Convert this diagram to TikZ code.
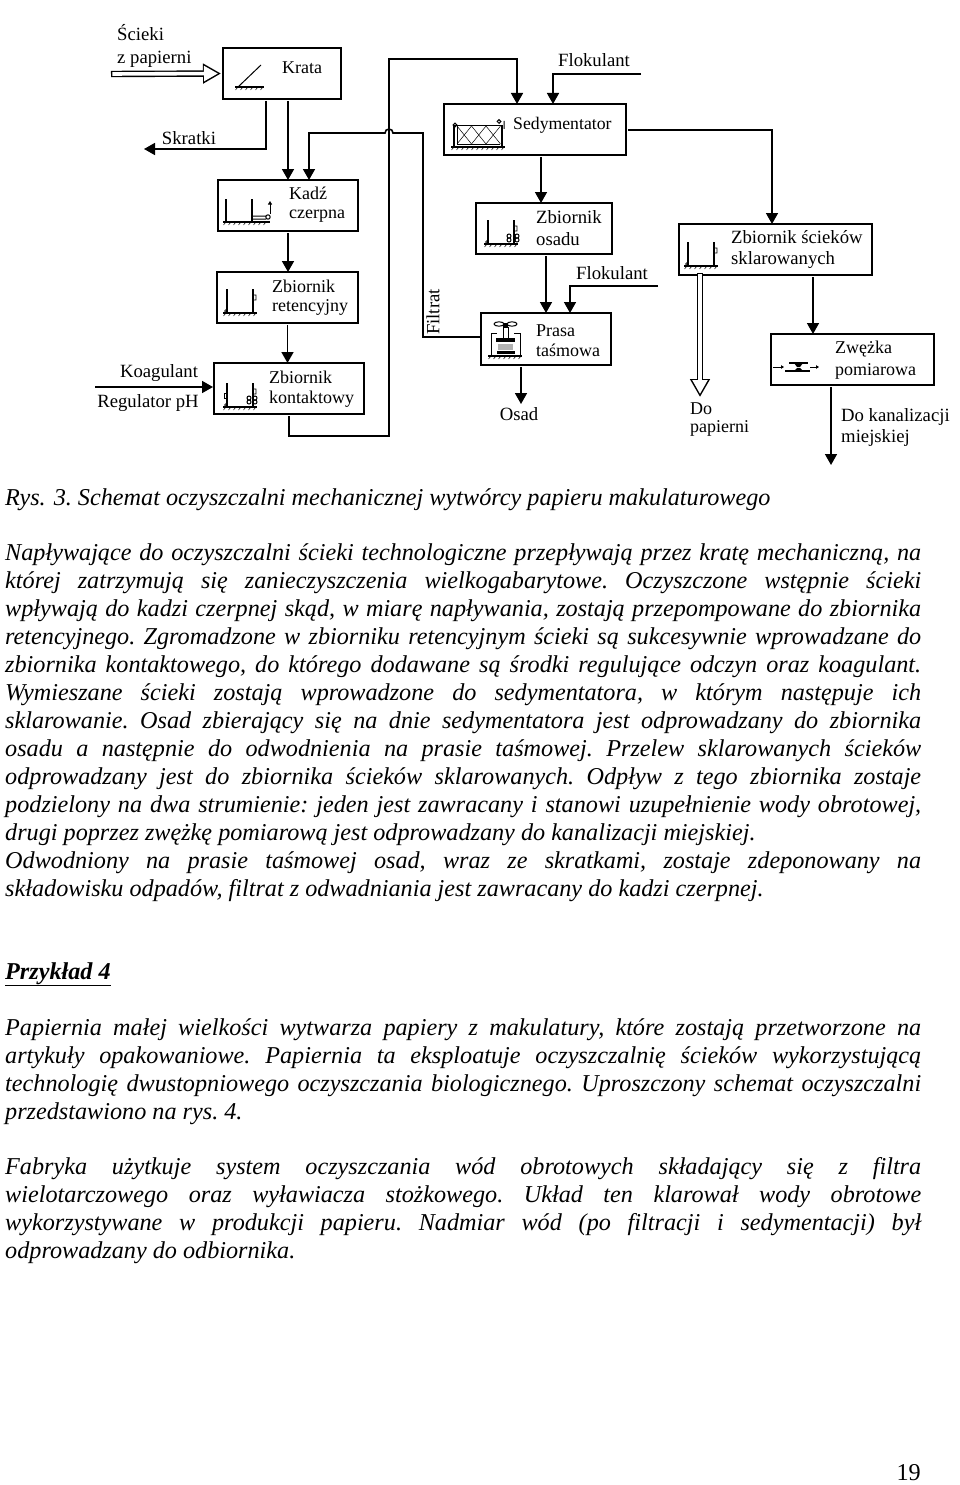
\documentclass[tikz,border=0pt]{standalone}
\usepackage{fontspec}
\setmainfont{Liberation Serif}
\usetikzlibrary{arrows.meta,positioning}

\newcommand{\justline}[1]{\makebox[916pt][s]{#1}}

\tikzset{
    box/.style={draw, line width=1.8pt, inner sep=0pt, outer sep=0pt},
    flow/.style={line width=1.6pt, -{Triangle[length=11pt,width=12pt]}, shorten <=2pt},
    hollow/.style={white, line width=3.6pt, shorten <=1.4pt, shorten >=3pt,
        -{Triangle[length=14pt,width=14.5pt]},
        preaction={draw=black, line width=6.4pt, shorten <=0pt, shorten >=0pt,
            -{Triangle[length=18pt,width=19pt]}}},
    label/.style={font=\fontsize{18.7}{18.7}\selectfont, align=left, inner sep=0pt},
    boxlabel/.style={font=\fontsize{18}{18.7}\selectfont, align=left, inner sep=0pt},
    bodyline/.style={anchor=base west, inner sep=0pt, font=\fontsize{24.2}{28}\selectfont\itshape\frenchspacing},
    icon/.style={line width=1pt},
    ground/.pic={
        \draw[line width=1.3pt] (0,0) -- (#1,0);
        \foreach \hx in {3,8,...,#1}
            \draw[line width=0.5pt] (\hx,0) -- ++(-2.5,3);
    },
    tank/.pic={
        \draw[line width=1.4pt] (0,-24) -- (0,0) (26,-24) -- (26,0);
        \draw[line width=0.7pt] (-1,-2) circle (1.3pt) (26,-18) -- ++(3,0) -- ++(0,5) -- ++(-3,0);
        \pic at (-4,0) {ground=34};
    },
}

\begin{document}
\begin{tikzpicture}[x=1pt, y=-1pt]
    \useasboundingbox (0,0) rectangle (960,1485);

    \node[box, minimum width=118pt, minimum height=51pt] (krata) at (282,73.5) {};
    \node[box, minimum width=140pt, minimum height=51pt] (kadz) at (288,205.5) {};
    \node[box, minimum width=141pt, minimum height=51pt] (reten) at (287.5,297.5) {};
    \node[box, minimum width=150pt, minimum height=51pt] (kontakt) at (289,388.5) {};
    \node[box, minimum width=182pt, minimum height=51pt] (sedym) at (535,129.5) {};
    \node[box, minimum width=136pt, minimum height=51pt] (osadu) at (544,228.5) {};
    \node[box, minimum width=130pt, minimum height=52pt] (prasa) at (546,339) {};
    \node[box, minimum width=193pt, minimum height=51pt] (klar) at (775.5,249.5) {};
    \node[box, minimum width=163pt, minimum height=51pt] (zwezka) at (852.5,359.5) {};

    \node[boxlabel] (kratatxt) at (302,68) {Krata};
    \node[boxlabel, anchor=west] (kadztxt) at (289,204.5) {Kadź\\czerpna};
    \node[boxlabel, anchor=west] (retentxt) at (272,298) {Zbiornik\\retencyjny};
    \node[boxlabel, anchor=west] (kontakttxt) at (269,389) {Zbiornik\\[1pt]kontaktowy};
    \node[boxlabel, anchor=west, font=\fontsize{17.7}{18}\selectfont] (sedymtxt) at (513,125) {Sedymentator};
    \node[label, anchor=west] (osadutxt) at (536,228) {Zbiornik\\[3pt]osadu};
    \node[boxlabel, anchor=west] (prasatxt) at (536,340.5) {Prasa\\[1pt]taśmowa};
    \node[label, anchor=west] (klartxt) at (731,249.5) {Zbiornik ścieków\\[3pt]sklarowanych};
    \node[boxlabel, anchor=west] (zwezkatxt) at (835,360.5) {Zwężka\\[3pt]pomiarowa};

    \node[label, anchor=west] (scieki) at (117,46) {Ścieki\\[4pt]z papierni};
    \node[label] (skratki) at (189,138) {Skratki};
    \node[label] (flok) at (594,60) {Flokulant};
    \node[label] (flokb) at (612,273) {Flokulant};
    \node[label] (koag) at (159,373) {Koagulant};
    \node[label] (regul) at (148,403) {Regulator pH};
    \node[label, rotate=90] (filtrat) at (433,312) {Filtrat};
    \node[label] (osad) at (519,414) {Osad};
    \node[boxlabel, anchor=west] (dopap) at (690,419.5) {Do\\papierni};
    \node[label, anchor=west] (dokan) at (841,427.5) {Do kanalizacji\\[3pt]miejskiej};

    \coordinate (wlot) at (111,74);
    \coordinate (skrend) at (144,149);
    \coordinate (flokstart) at (641,74);
    \coordinate (flokbstart) at (658,286);
    \coordinate (koagstart) at (95,387);
    \coordinate (osadend) at (521,404);
    \coordinate (papend) at (700,397);
    \coordinate (miasto) at (831,465);
    \coordinate (retdol) at (389,436);
    \coordinate (retgora) at (389,59);
    \coordinate (filtgora) at (423,133);
    \coordinate (garb) at (393,133);
    \coordinate (sedprawo) at (772,130);

    \draw[hollow] (wlot) -- ([xshift=-2pt]krata.west);
    \draw[flow] ([xshift=-16pt]krata.south) |- (skrend);
    \draw[flow] (krata.south -| kadz.north) -- (kadz.north);
    \draw[flow] (kadz.south) -- (kadz.south |- reten.north);
    \draw[flow] (reten.south) -- (reten.south |- kontakt.north);
    \draw[flow, shorten <=0pt, shorten >=1pt] (koagstart) -- (koagstart -| kontakt.west);
    \draw[flow] (kontakt.south) |- (retdol) -- (retgora) -| ([xshift=-18pt]sedym.north);
    \draw[flow, shorten <=0pt] (flokstart) -| ([xshift=18pt]sedym.north);
    \draw[flow] ([xshift=6pt]sedym.south) -- ([xshift=6pt]sedym.south |- osadu.north);
    \draw[flow] (sedym.east |- sedprawo) -- (sedprawo) -- (sedprawo |- klar.north);
    \draw[flow] ([xshift=2pt]osadu.south) -- ([xshift=2pt]osadu.south |- prasa.north);
    \draw[flow, shorten <=0pt] (flokbstart) -| ([xshift=24pt]prasa.north);
    \draw[flow] ([xshift=-25pt]prasa.south) -- (osadend);
    \draw[flow, shorten <=0pt] ([yshift=2pt]prasa.west) -| (filtgora) -- (garb)
        arc[start angle=0, end angle=180, radius=4pt] -| ([xshift=21pt]kadz.north);
    \draw[hollow] ([yshift=2pt]papend |- klar.south) -- (papend);
    \draw[flow] ([xshift=37.5pt]klar.south) -- ([xshift=37.5pt]klar.south |- zwezka.north);
    \draw[flow] ([xshift=-21.5pt]zwezka.south) -- (miasto);

    \pic at (235,87) {ground=29};
    \draw[icon] (238,87) -- (261,65);

    \pic at (223,222) {ground=47};
    \draw[line width=1.4pt] (226,199) -- (226,222) (252,199) -- (252,222);
    \draw[icon] (252,216) -- (266,216) (252,219) -- (266,219) (268,217) circle (2.2pt);
    \draw[icon, -{Triangle[length=3.5pt,width=4pt]}] (270,214) -- (270,201);

    \pic at (227,313) {tank};
    \pic at (227,407) {tank};
    \draw[line width=1pt] (249,402) circle (2pt) (249,398) circle (2pt) (255,402) circle (2pt) (255,398) circle (2pt);
    \draw[icon] (227,393) -- ++(-3,0) -- ++(0,5) -- ++(3,0);

    \pic at (488,244) {tank};
    \draw[line width=1pt] (509,240) circle (2pt) (509,236) circle (2pt) (517,240) circle (2pt) (517,236) circle (2pt);
    \pic at (688,266) {tank};

    \pic at (451,147) {ground=54};
    \draw[line width=1.4pt] (454,125) -- (454,147) (502,125) -- (502,147);
    \draw[icon] (454,126) -- (502,126);
    \draw[line width=0.5pt] (457,126) -- (457,144) -- (500,144);
    \foreach \sx in {457,471.5,486}
        \draw[line width=0.5pt] (\sx,126) -- ++(14.5,18) (\sx,144) -- ++(14.5,-18);
    \draw[icon] (455,125) circle (1.8pt) (499,121.5) circle (1.8pt) (504,121) -- (504,129);

    \pic at (488,356) {ground=34};
    \draw[line width=1pt] (491,356) -- (491,333) -- (497,333) (520,356) -- (520,333) -- (514,333);
    \draw[line width=1pt] (499,324) ellipse (5pt and 2.2pt) (512,324) ellipse (5pt and 2.2pt);
    \fill (503,323) rectangle (508,327);
    \draw[line width=1pt] (503,327) rectangle (508,338);
    \fill (496,338) rectangle (515,342);
    \fill[gray!60] (498,344) rectangle (513,350);
    \fill (497,351) rectangle (515,354);

    \draw[icon, -{Triangle[length=3pt,width=3.5pt]}] (773,367) -- (784,367);
    \draw[icon, -{Triangle[length=3pt,width=3.5pt]}] (810,367) -- (819,367);
    \draw[line width=1.3pt] (785,371) -- (810,371) (789,363) -- (808,363);
    \fill (794,363) -- (803,363) -- (800,367) -- (797,367) -- cycle;
    \fill (794,371) -- (803,371) -- (800,368) -- (797,368) -- cycle;

    \node[bodyline] (rys) at (5,505) {Rys.\hspace{2pt} 3. Schemat oczyszczalni mechanicznej wytwórcy papieru makulaturowego};

    \node[bodyline] (lineA) at (5,560.5) {\justline{Napływające do oczyszczalni ścieki technologiczne przepływają przez kratę mechaniczną, na}};
    \node[bodyline] (lineB) at (5,588.5) {\justline{której zatrzymują się zanieczyszczenia wielkogabarytowe. Oczyszczone wstępnie ścieki}};
    \node[bodyline] (lineC) at (5,616.5) {\justline{wpływają do kadzi czerpnej skąd, w miarę napływania, zostają przepompowane do zbiornika}};
    \node[bodyline] (lineD) at (5,644.5) {\justline{retencyjnego. Zgromadzone w zbiorniku retencyjnym ścieki są sukcesywnie wprowadzane do}};
    \node[bodyline] (lineE) at (5,672.5) {\justline{zbiornika kontaktowego, do którego dodawane są środki regulujące odczyn oraz koagulant.}};
    \node[bodyline] (lineF) at (5,700.5) {\justline{Wymieszane ścieki zostają wprowadzone do sedymentatora, w którym następuje ich}};
    \node[bodyline] (lineG) at (5,728.5) {\justline{sklarowanie. Osad zbierający się na dnie sedymentatora jest odprowadzany do zbiornika}};
    \node[bodyline] (lineH) at (5,756.5) {\justline{osadu a następnie do odwodnienia na prasie taśmowej. Przelew sklarowanych ścieków}};
    \node[bodyline] (lineI) at (5,784.5) {\justline{odprowadzany jest do zbiornika ścieków sklarowanych. Odpływ z tego zbiornika zostaje}};
    \node[bodyline] (lineJ) at (5,812.5) {\justline{podzielony na dwa strumienie: jeden jest zawracany i stanowi uzupełnienie wody obrotowej,}};
    \node[bodyline] (lineK) at (5,840.5) {drugi poprzez zwężkę pomiarową jest odprowadzany do kanalizacji miejskiej.};
    \node[bodyline] (lineL) at (5,868.5) {\justline{Odwodniony na prasie taśmowej osad, wraz ze skratkami, zostaje zdeponowany na}};
    \node[bodyline] (lineM) at (5,896.5) {składowisku odpadów, filtrat z odwadniania jest zawracany do kadzi czerpnej.};

    \node[bodyline, font=\fontsize{24.2}{28}\selectfont\itshape\bfseries] (przyklad) at (5,979) {\underline{Przykład 4}};

    \node[bodyline] (lineN) at (5,1035) {\justline{Papiernia małej wielkości wytwarza papiery z makulatury, które zostają przetworzone na}};
    \node[bodyline] (lineO) at (5,1063) {\justline{artykuły opakowaniowe. Papiernia ta eksploatuje oczyszczalnię ścieków wykorzystującą}};
    \node[bodyline] (lineP) at (5,1091) {\justline{technologię dwustopniowego oczyszczania biologicznego. Uproszczony schemat oczyszczalni}};
    \node[bodyline] (lineQ) at (5,1119) {przedstawiono na rys. 4.};

    \node[bodyline] (lineR) at (5,1174) {\justline{Fabryka użytkuje system oczyszczania wód obrotowych składający się z filtra}};
    \node[bodyline] (lineS) at (5,1202) {\justline{wielotarczowego oraz wyławiacza stożkowego. Układ ten klarował wody obrotowe}};
    \node[bodyline] (lineT) at (5,1230) {\justline{wykorzystywane w produkcji papieru. Nadmiar wód (po filtracji i sedymentacji) był}};
    \node[bodyline] (lineU) at (5,1258) {odprowadzany do odbiornika.};

    \node[bodyline, font=\fontsize{24.2}{28}\selectfont, anchor=base east] (strona) at (921,1480) {19};
\end{tikzpicture}
\end{document}
